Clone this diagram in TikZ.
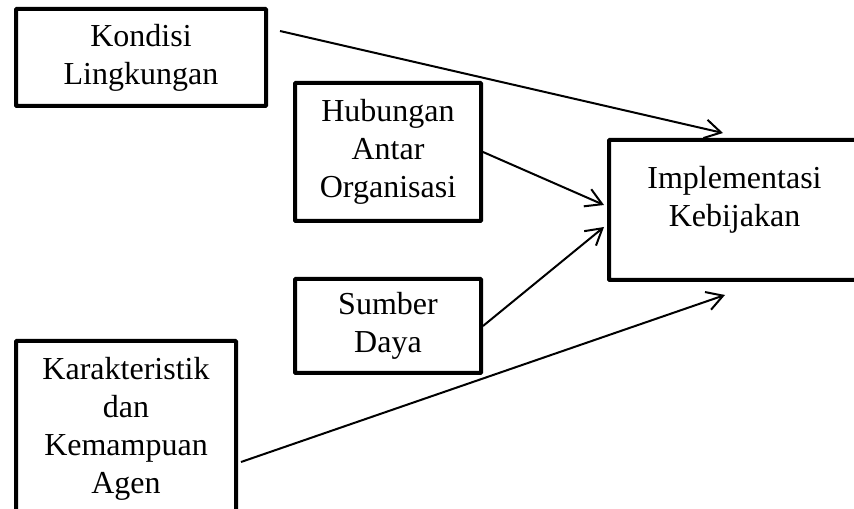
\documentclass[tikz,border=0pt]{standalone}
\usepackage{fontspec}
\setmainfont{Liberation Serif}
\usetikzlibrary{arrows.meta,calc}

\tikzset{
  faktor/.style={draw,line width=3pt,rounded corners=0.6pt,align=center,inner sep=0pt,
    font=\fontsize{24}{28.5}\selectfont},
  panah/.style={line width=1.5pt,-{Straight Barb[length=12pt,width=14pt,line width=1.5pt]}}
}

\begin{document}
\begin{tikzpicture}[x=0.75pt,y=-0.75pt]
      \useasboundingbox (0,0) rectangle (854,509);
      % kotak faktor
      \node[faktor,minimum width=187.5pt,minimum height=72.75pt] (kondisi) at (141,57.5) {Kondisi\\Lingkungan};
      \node[faktor,minimum width=139.5pt,minimum height=103.5pt] (hubungan) at (388,152) {Hubungan\\Antar\\Organisasi};
      \node[faktor,minimum width=139.5pt,minimum height=70.5pt] (sumber) at (388,326) {Sumber\\Daya};
      \node[faktor,minimum width=165pt,minimum height=131.25pt] (agen) at (126,428.5) {Karakteristik\\dan\\Kemampuan\\Agen};
      \node[faktor,minimum width=188.25pt,minimum height=105pt] (impl) at (734.5,210) {};
      \node[align=center,inner sep=0pt,font=\fontsize{24}{28.5}\selectfont] (impllbl) at ($(impl.center)+(0,-10)$) {Implementasi\\Kebijakan};
      % ujung panah
      \coordinate (a1) at ($(kondisi.north east)+(12,24)$);
      \coordinate (b1) at ($(impl.north west)+(116,-5)$);
      \coordinate (b2) at ($(impl.west)+(-3,-5)$);
      \coordinate (b3) at ($(impl.west)+(-3,17)$);
      \coordinate (a4) at ($(agen.east)+(3,33.5)$);
      \coordinate (b4) at ($(impl.south west)+(118,13)$);
      \draw[panah] (a1) -- (b1);
      \draw[panah] (hubungan.east) -- (b2);
      \draw[panah] (sumber.east) -- (b3);
      \draw[panah] (a4) -- (b4);
\end{tikzpicture}
\end{document}
